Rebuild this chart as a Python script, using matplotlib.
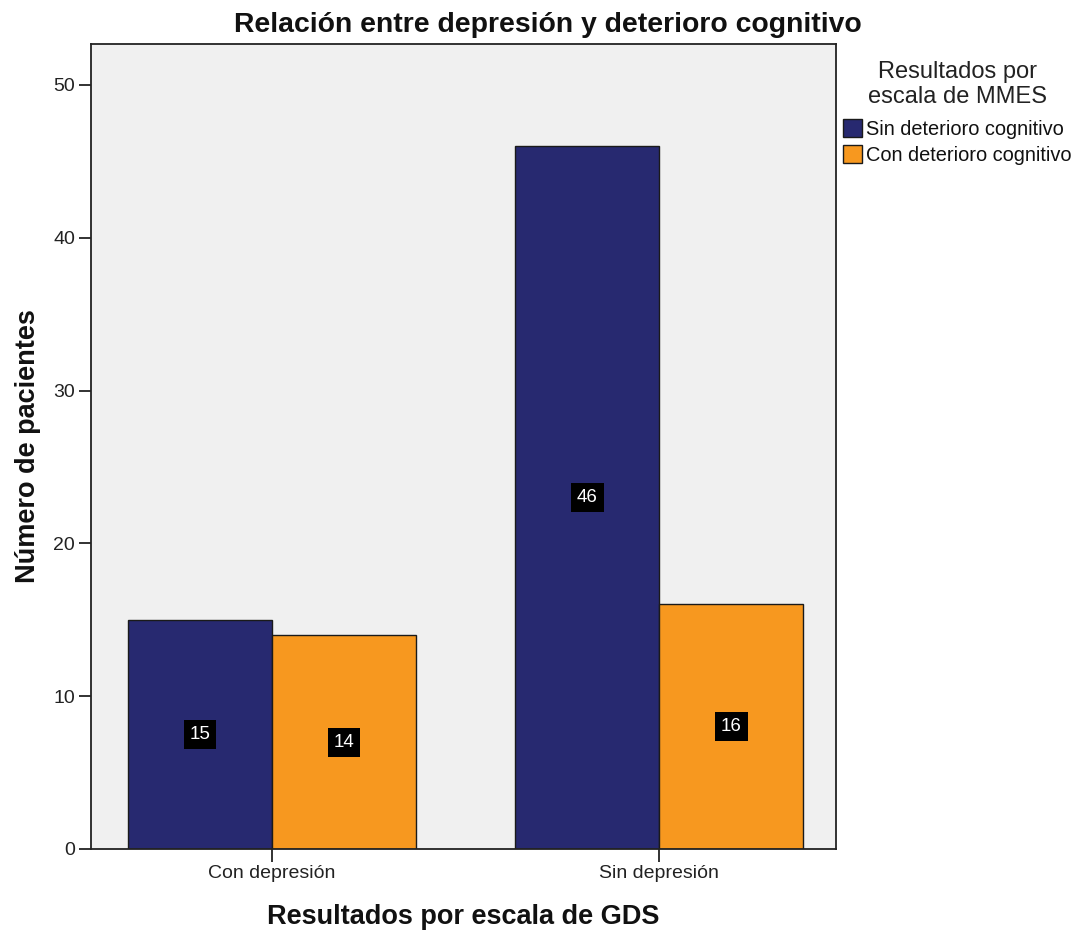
import matplotlib
matplotlib.use("Agg")
import matplotlib.pyplot as plt
from matplotlib.patches import Patch
import numpy as np

plt.rcParams['font.family'] = ['Liberation Sans', 'DejaVu Sans']

categories = ["Con depresión", "Sin depresión"]
series_names = ["Sin deterioro cognitivo", "Con deterioro cognitivo"]
sin_deterioro = [15, 46]
con_deterioro = [14, 16]
colors = ["#272970", "#F7981F"]
yticks = [0, 10, 20, 30, 40, 50]

fig = plt.figure(figsize=(10.74, 9.30), dpi=100)
ax = fig.add_axes([0.0847, 0.0871, 0.6937, 0.8656])
ax.set_facecolor("#F0F0F0")

x = np.arange(len(categories))
width = 0.372
for i, (vals, col) in enumerate(zip([sin_deterioro, con_deterioro], colors)):
    pos = x + (i - 0.5) * width
    bars = ax.bar(pos, vals, width=width, color=col, edgecolor="#1a1a1a",
                  linewidth=1.0, zorder=2)
    for b, v in zip(bars, vals):
        ax.text(b.get_x() + b.get_width() / 2, v / 2, str(v), color="white",
                ha="center", va="center", fontsize=13.5, zorder=3,
                bbox=dict(boxstyle="square,pad=0.32", fc="black", ec="none"))

ax.set_xlim(-0.4677, 1.457)
ax.set_ylim(0, 52.68)
ax.set_xticks(x)
ax.set_xticklabels(categories, fontsize=14)
ax.set_yticks(yticks)
ax.set_yticklabels([str(t) for t in yticks], fontsize=14)
ax.tick_params(axis="both", direction="out", length=9, width=1.3, color="#222222",
               labelcolor="#222222", pad=2.5)
for s in ax.spines.values():
    s.set_color("#222222")
    s.set_linewidth(1.3)

fig.text(548 / 1074, 0.973, "Relación entre depresión y deterioro cognitivo",
         fontsize=20.4, fontweight="bold", color="#111111", ha="center", va="center")
ax.set_xlabel("Resultados por escala de GDS", fontsize=19.5, fontweight="bold",
              color="#111111", labelpad=16)
ax.set_ylabel("Número de pacientes", fontsize=19.5, fontweight="bold",
              color="#111111", labelpad=9)

handles = [Patch(facecolor=c, edgecolor="#1a1a1a", linewidth=1.0) for c in colors]
leg = fig.legend(handles, series_names, loc="upper left",
                 bbox_to_anchor=(843 / 1074, 0.934), frameon=False, fontsize=14.4,
                 title="Resultados por\nescala de MMES", title_fontsize=17,
                 handlelength=0.95, handleheight=1.0, handletextpad=0.2,
                 labelspacing=0.32, borderaxespad=0, borderpad=0)
leg._legend_box.align = "center"
leg._legend_box.sep = 8
plt.setp(leg.get_title(), multialignment="center", color="#222222",
         linespacing=1.15)
for t in leg.get_texts():
    t.set_color("#111111")

fig.savefig("out.png", dpi=100, facecolor="white")
